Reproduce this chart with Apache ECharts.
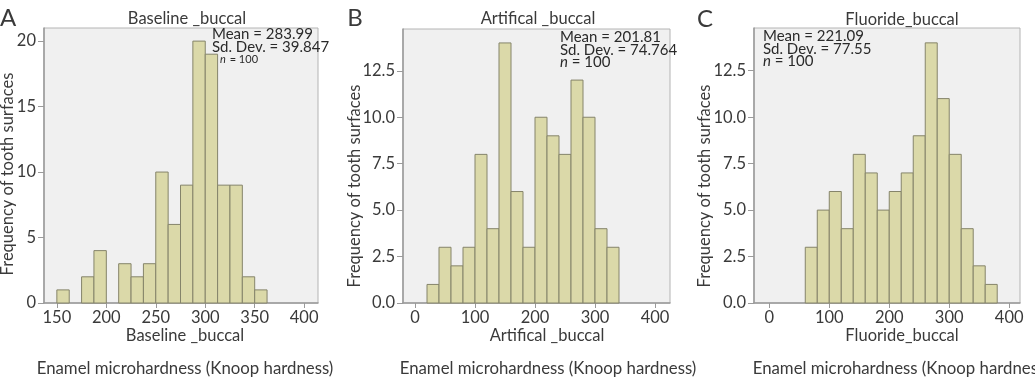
<!DOCTYPE html>
<html>
<head>
<meta charset="utf-8">
<style>
  html, body { margin: 0; padding: 0; background: #fff; }
  #main { width: 1035px; height: 379px; }
</style>
<script src="https://cdn.jsdelivr.net/npm/echarts@6/dist/echarts.min.js"></script>
</head>
<body>
<div id="main"></div>
<script>
// histogram bins: lower edge of first bin, bin width, counts per bin
const binStartA = 150
const binWidthA = 12.5
const countsA = [1, 0, 2, 4, 0, 3, 2, 3, 10, 6, 9, 20, 19, 9, 9, 2, 1]

const binStartB = 20
const binWidthB = 20
const countsB = [1, 3, 2, 3, 8, 4, 14, 6, 3, 10, 9, 8, 12, 10, 4, 3]

const binStartC = 60
const binWidthC = 20
const countsC = [3, 5, 6, 4, 8, 7, 5, 6, 7, 9, 14, 11, 8, 4, 2, 1]

// tick labels
const xTicksA = [150, 200, 250, 300, 350, 400]
const xTicksBC = [0, 100, 200, 300, 400]
const yTicksA = [0, 5, 10, 15, 20]
const yTicksBC = [0, 2.5, 5, 7.5, 10, 12.5]

const titles = ['Baseline _buccal', 'Artifical _buccal', 'Fluoride_buccal']
const stats = [
  ['Mean = 283.99', 'Sd. Dev. = 39.847', '100'],
  ['Mean = 201.81', 'Sd. Dev. = 74.764', '100'],
  ['Mean = 221.09', 'Sd. Dev. = 77.55', '100']
]

const FONT = 'Lato'
const TEXT = '#3a3a3a'
const BAR_FILL = '#dbd9a9'
const BAR_EDGE = '#85846a'
const AXIS = '#9a9a9a'

function toBins(start, width, counts) {
  const out = []
  counts.forEach((c, i) => {
    if (c > 0) out.push([start + i * width, start + (i + 1) * width, c])
  })
  return out
}

function renderBin(params, api) {
  const p0 = api.coord([api.value(0), api.value(2)])
  const p1 = api.coord([api.value(1), 0])
  return {
    type: 'rect',
    shape: { x: p0[0], y: p0[1], width: p1[0] - p0[0], height: p1[1] - p0[1] },
    style: { fill: BAR_FILL, stroke: BAR_EDGE, lineWidth: 1 }
  }
}

const grids = [
  { left: 44, top: 28, width: 274, height: 275 },
  { left: 403, top: 29, width: 267, height: 274 },
  { left: 754, top: 28, width: 266, height: 275 }
].map(g => Object.assign(g, {
  show: true,
  backgroundColor: '#f0f0f0',
  borderColor: '#b4b4b4',
  borderWidth: 1
}))

function xAxis(idx, min, max, ticks) {
  return {
    type: 'value',
    gridIndex: idx,
    min: min,
    max: max,
    axisLine: { show: true, onZero: false, lineStyle: { color: AXIS, width: 1.5 } },
    axisTick: { show: true, length: 5, customValues: ticks, lineStyle: { color: AXIS } },
    axisLabel: { customValues: ticks, color: TEXT, fontFamily: FONT, fontSize: 16.5, margin: 6 },
    splitLine: { show: false }
  }
}

function yAxis(idx, max, ticks, digits) {
  return {
    type: 'value',
    gridIndex: idx,
    min: 0,
    max: max,
    axisLine: { show: true, onZero: false, lineStyle: { color: AXIS, width: 1.5 } },
    axisTick: { show: true, length: 6, customValues: ticks, lineStyle: { color: AXIS } },
    axisLabel: {
      customValues: ticks,
      color: TEXT,
      fontFamily: FONT,
      fontSize: 16.5,
      margin: 8,
      formatter: v => v.toFixed(digits)
    },
    splitLine: { show: false }
  }
}

function text(x, y, str, size, extra) {
  return Object.assign({
    type: 'text',
    x: x,
    y: y,
    style: {
      text: str,
      fill: TEXT,
      font: size + 'px ' + FONT,
      align: 'center',
      verticalAlign: 'middle'
    }
  }, extra || {})
}

function statBlock(x, y, lines, small) {
  return {
    type: 'text',
    x: x,
    y: y,
    style: {
      text: lines[0] + '\n' + lines[1] + '\n{i|n} {s|= ' + lines[2] + '}',
      fill: '#2a2a2a',
      font: '15px ' + FONT,
      lineHeight: 12.5,
      align: 'left',
      verticalAlign: 'top',
      rich: {
        i: { fontStyle: 'italic', fontSize: small ? 11 : 15, fontFamily: FONT, fill: '#2a2a2a', padding: small ? [0, 0, 0, 8] : 0 },
        s: { fontSize: small ? 11 : 15, fontFamily: FONT, fill: '#2a2a2a' }
      }
    }
  }
}

const graphics = [
  text(8, 18, 'A', 24),
  text(355, 18, 'B', 24),
  text(705, 19, 'C', 24),
  text(187, 19, titles[0], 16.5),
  text(538, 19, titles[1], 16.5),
  text(902, 20, titles[2], 16.5),
  text(185, 336, titles[0], 16.5),
  text(547, 336, titles[1], 16.5),
  text(902, 336, titles[2], 16.5),
  text(185, 369, 'Enamel microhardness (Knoop hardness)', 16.8),
  text(548, 369, 'Enamel microhardness (Knoop hardness)', 16.8),
  text(901, 369, 'Enamel microhardness (Knoop hardness)', 16.8),
  text(8, 174, 'Frequency of tooth surfaces', 16.5, { rotation: Math.PI / 2 }),
  text(355, 186, 'Frequency of tooth surfaces', 16.5, { rotation: Math.PI / 2 }),
  text(705, 186, 'Frequency of tooth surfaces', 16.5, { rotation: Math.PI / 2 }),
  statBlock(212, 28, stats[0], true),
  statBlock(560, 31, stats[1], false),
  statBlock(763, 30, stats[2], false)
]

const chart = echarts.init(document.getElementById('main'), null, { renderer: 'canvas' })
chart.setOption({
  animation: false,
  grid: grids,
  xAxis: [
    xAxis(0, 137, 414, xTicksA),
    xAxis(1, -20, 425, xTicksBC),
    xAxis(2, -25.5, 418, xTicksBC)
  ],
  yAxis: [
    yAxis(0, 21, yTicksA, 0),
    yAxis(1, 14.75, yTicksBC, 1),
    yAxis(2, 14.8, yTicksBC, 1)
  ],
  series: [
    { type: 'custom', xAxisIndex: 0, yAxisIndex: 0, renderItem: renderBin, encode: { x: [0, 1], y: 2 }, data: toBins(binStartA, binWidthA, countsA) },
    { type: 'custom', xAxisIndex: 1, yAxisIndex: 1, renderItem: renderBin, encode: { x: [0, 1], y: 2 }, data: toBins(binStartB, binWidthB, countsB) },
    { type: 'custom', xAxisIndex: 2, yAxisIndex: 2, renderItem: renderBin, encode: { x: [0, 1], y: 2 }, data: toBins(binStartC, binWidthC, countsC) }
  ],
  graphic: graphics
})
</script>
</body>
</html>
